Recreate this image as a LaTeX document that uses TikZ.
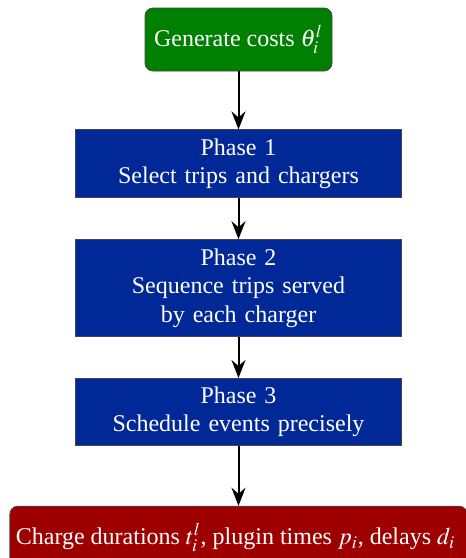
\documentclass[tikz,border=0pt]{standalone}
\usepackage{mathptmx}
\usepackage{fontspec}
\setmainfont{Liberation Serif}
\usetikzlibrary{arrows.meta, positioning}
\definecolor{cGen}{RGB}{0, 128, 0}
\definecolor{cPhase}{RGB}{0, 40, 150}
\definecolor{cOut}{RGB}{158, 0, 0}
\definecolor{bLine}{RGB}{70, 70, 70}

\begin{document}
\begin{tikzpicture}[
    font=\fontsize{12}{14.2}\selectfont,
    >={Stealth[length=9pt, width=7pt, inset=3pt]},
    block/.style={
        draw=bLine,
        line width=0.4pt,
        fill=#1,
        text=white,
        align=center,
        inner sep=3pt
    },
    phase/.style={block=cPhase, text width=157pt},
    arrow/.style={->, line width=1pt, color=black}
]

\useasboundingbox (0,0) rectangle (233pt,-279pt);

% Input
\node[block=cGen, rounded corners=4pt, minimum width=93.5pt, minimum height=31.5pt] (gen) at (119.25pt,-19.75pt) {Generate costs $\theta_i^l$};

% Phases
\node[phase, minimum height=34pt, below=29pt of gen] (p1) {
    Phase 1\\
    Select trips and chargers
};

\node[phase, minimum height=48.5pt, below=20.5pt of p1] (p2) {
    Phase 2\\
    Sequence trips served\\
    by each charger
};

\node[phase, minimum height=33.5pt, below=20.5pt of p2] (p3) {
    Phase 3\\
    Schedule events precisely
};

% Output
\node[block=cOut, rounded corners=4pt, minimum width=225pt, minimum height=31.5pt, below=30pt of p3] (out) {
    Charge durations $t_i^l$, plugin times $p_i$, delays $d_i$
};

\draw[arrow] (gen) -- (p1);
\draw[arrow] (p1) -- (p2);
\draw[arrow] (p2) -- (p3);
\draw[arrow] (p3) -- (out);

\end{tikzpicture}
\end{document}
